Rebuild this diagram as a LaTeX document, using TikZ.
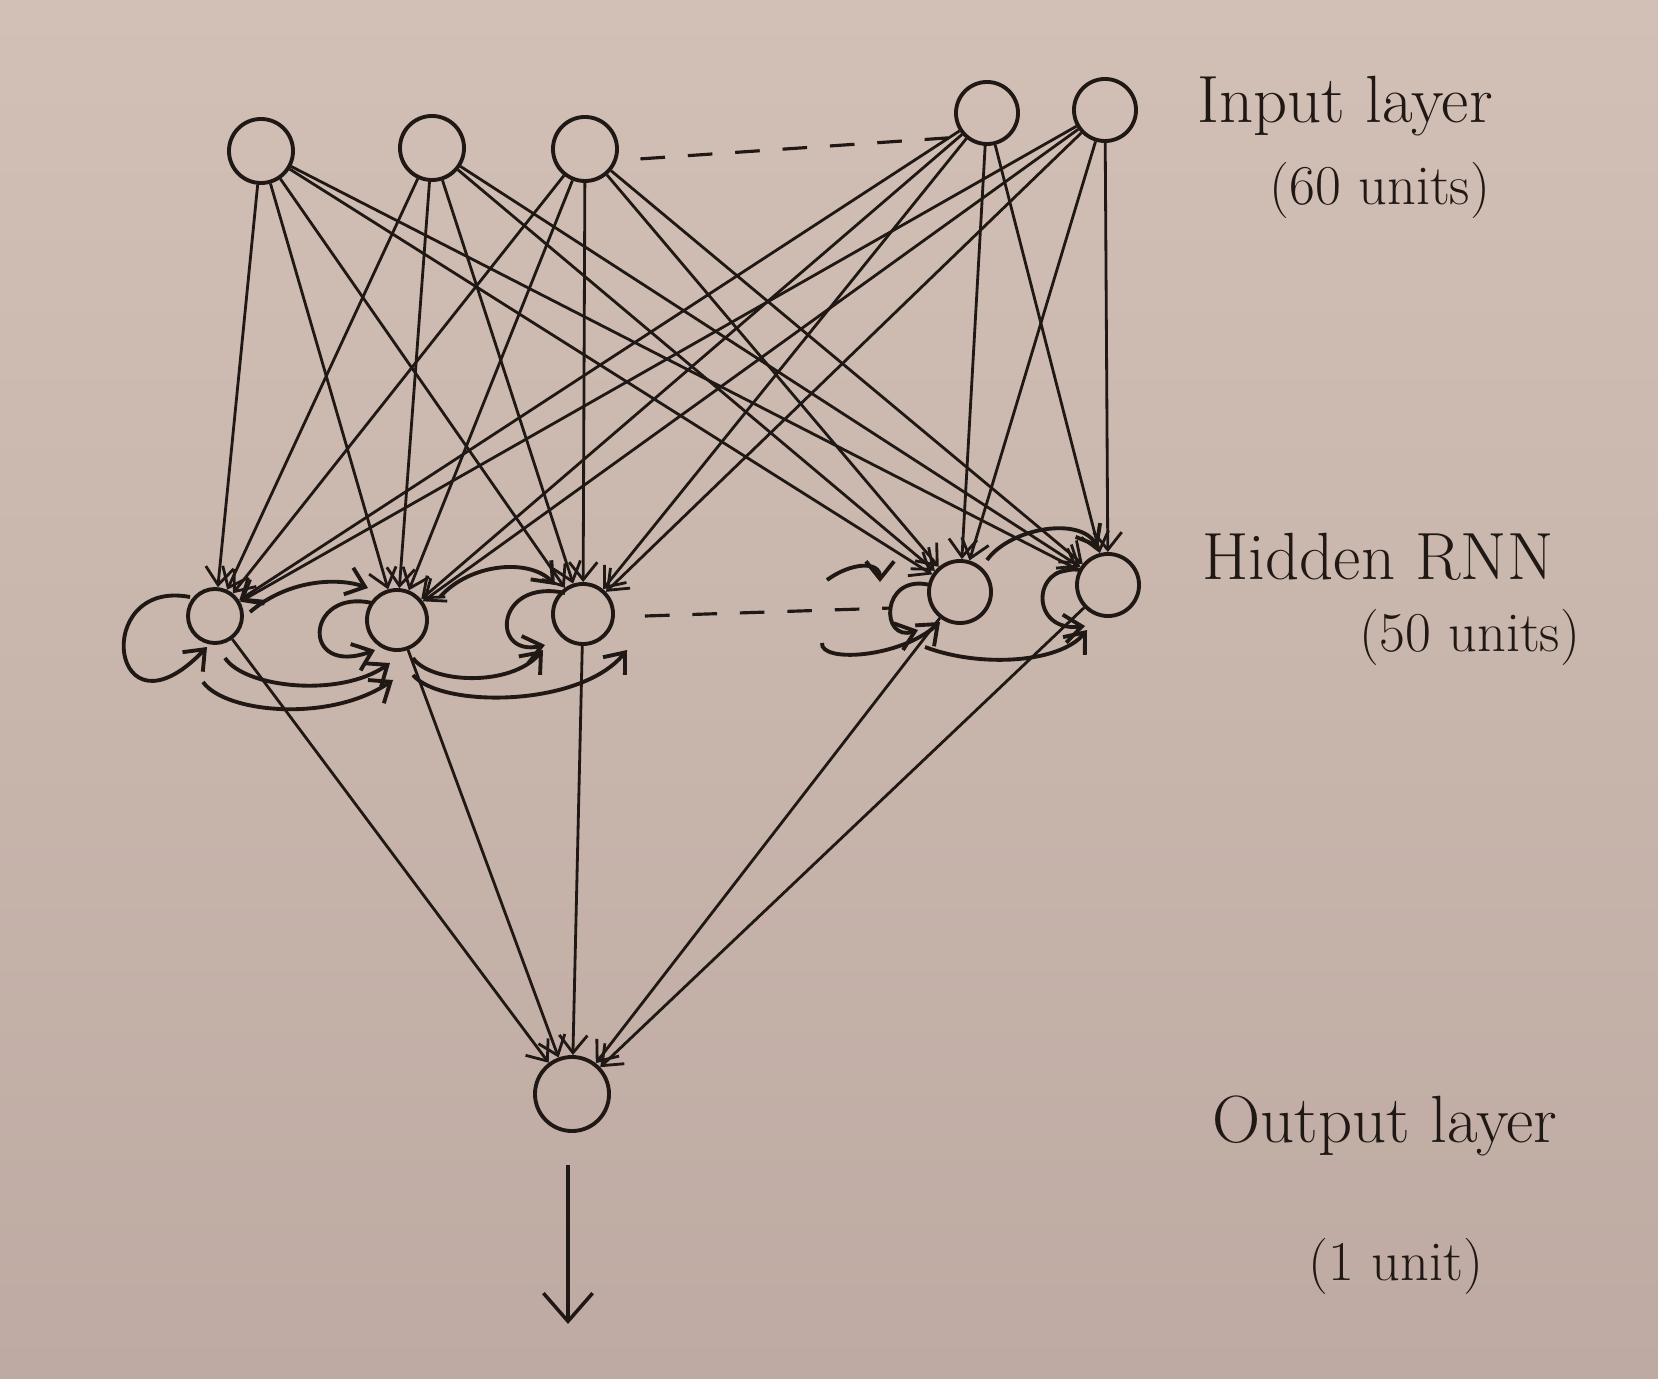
\documentclass[tikz,border=0pt]{standalone}
\usetikzlibrary{arrows.meta,calc}
\definecolor{paper}{RGB}{210,192,182}
\definecolor{paperdark}{RGB}{190,170,162}
\definecolor{ink}{RGB}{32,24,20}
\begin{document}
\begin{tikzpicture}[x=0.01cm,y=0.01cm,
  neuron/.style={circle,draw=ink,line width=1.1pt,inner sep=0pt},
  arr/.style={draw=ink,line width=0.8pt,-{Straight Barb[length=5pt,width=8pt]}},
  rec/.style={draw=ink,line width=1.1pt,-{Straight Barb[length=5pt,width=8pt]}},
  recn/.style={draw=ink,line width=1.1pt},
  lbl/.style={text=ink,font=\fontsize{19}{22}\selectfont,inner sep=0pt},
  ulbl/.style={text=ink,font=\fontsize{16}{19}\selectfont,inner sep=0pt},
  dsh/.style={draw=ink,line width=0.9pt,dash pattern=on 7pt off 6.5pt}]
\shade[top color=paper,bottom color=paperdark] (0,0) rectangle (1658,1378);
\useasboundingbox (0,0) rectangle (1658,1378);

% input layer
\node[neuron,minimum size=0.64cm] (i1) at (261,1227) {};
\node[neuron,minimum size=0.64cm] (i2) at (432,1230) {};
\node[neuron,minimum size=0.64cm] (i3) at (585,1229) {};
\node[neuron,minimum size=0.62cm] (i4) at (987,1265) {};
\node[neuron,minimum size=0.62cm] (i5) at (1105,1268) {};
% hidden layer
\node[neuron,minimum size=0.54cm] (h1) at (215,762) {};
\node[neuron,minimum size=0.60cm] (h2) at (397,758) {};
\node[neuron,minimum size=0.60cm] (h3) at (583,764) {};
\node[neuron,minimum size=0.62cm] (h4) at (960,786) {};
\node[neuron,minimum size=0.62cm] (h5) at (1108,793) {};
% output
\node[neuron,minimum size=0.74cm] (out) at (572,284) {};

% labels
\node[lbl] (lin) at (1345,1272) {Input layer};
\node[ulbl] (lin2) at (1380,1188) {(60 units)};
\node[lbl] (lhid) at (1378,821) {Hidden RNN};
\node[ulbl] (lhid2) at (1470,741) {(50 units)};
\node[lbl] (lout) at (1385,252) {Output layer};
\node[ulbl] (lout2) at (1396,112) {(1 unit)};

% input -> hidden
\foreach \i in {i1,i2,i3,i4,i5}
  \foreach \h in {h1,h2,h3,h4,h5}
    \draw[arr] (\i) -- (\h);

% hidden -> output
\foreach \h in {h1,h2,h3,h4,h5}
  \draw[arr] (\h) -- (out);

% output arrow
\draw[draw=ink,line width=1pt,-{Straight Barb[length=8pt,width=14pt]}]
  ($(out.south)+(-4,-32)$) -- ($(out.south)+(-4,-191)$);

% dashed ellipses
\draw[dsh] ($(i3.-10)+(22,-4)$) -- ($(i4.-145)+(-12,-6)$);
\draw[dsh] ($(h3.east)+(30,-2)$) -- ($(h4.west)+(-35,-16)$);

% self loops
\draw[rec] ($(h1)+(-25,19)$) .. controls (90,800) and (110,630) .. ($(h1)+(-8,-31)$);
\draw[rec] ($(h2)+(-25,17)$) .. controls (305,790) and (300,700) .. ($(h2)+(-22,-30)$);
\draw[rec] ($(h3)+(-18,21)$) .. controls (495,800) and (490,720) .. ($(h3)+(-38,-31)$);
\draw[rec] ($(h4)+(-30,7)$) .. controls (880,805) and (880,735) .. ($(h4)+(-42,-38)$);
\draw[rec] ($(h5)+(-28,15)$) .. controls (1030,815) and (1030,745) .. ($(h5)+(-23,-41)$);

% upper arcs
\draw[rec] ($(h1)+(35,4)$) .. controls (290,800) and (340,800) .. ($(h2)+(-29,32)$);
\draw[rec] ($(h2)+(43,23)$) .. controls (470,815) and (530,820) .. ($(h3)+(-28,29)$);
\draw[rec] ($(h4)+(-133,12)$) .. controls (850,815) and (880,818) .. ($(h4)+(-80,10)$);
\draw[rec] ($(h4)+(27,32)$) .. controls (1010,850) and (1080,862) .. ($(h5)+(-10,37)$);

% lower arcs
\draw[rec] ($(h1)+(10,-42)$) .. controls (245,690) and (340,680) .. ($(h2)+(-7,-43)$);
\draw[rec] ($(h1)+(-12,-66)$) .. controls (225,665) and (330,655) .. ($(h2)+(-4,-60)$);
\draw[rec] ($(h2)+(16,-38)$) .. controls (430,695) and (510,690) .. ($(h3)+(-40,-36)$);
\draw[rec] ($(h2)+(16,-55)$) .. controls (440,670) and (580,670) .. ($(h3)+(44,-36)$);
\draw[rec] ($(h4)+(-138,-51)$) .. controls (820,715) and (900,720) .. ($(h4)+(-20,-30)$);
\draw[rec] ($(h4)+(-35,-55)$) .. controls (980,710) and (1060,715) .. ($(h5)+(-21,-45)$);
\end{tikzpicture}
\end{document}
